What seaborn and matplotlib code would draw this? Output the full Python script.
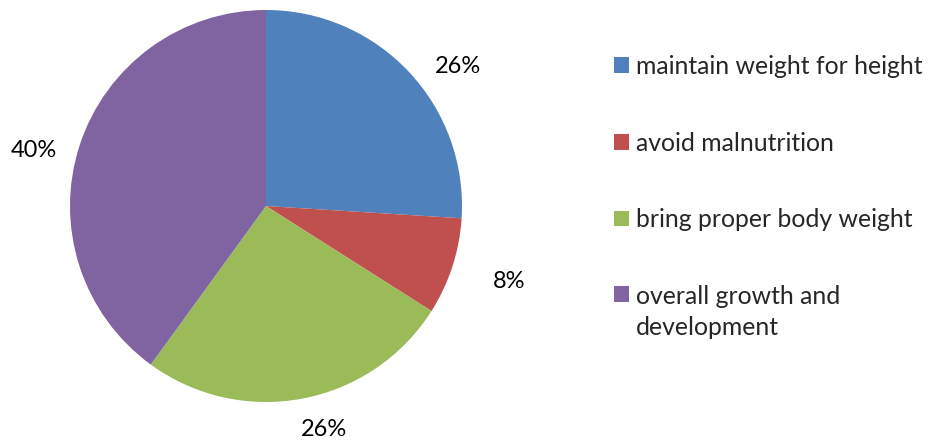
import matplotlib
matplotlib.use("Agg")
import matplotlib.pyplot as plt
from matplotlib.patches import Patch, Rectangle
from matplotlib.legend_handler import HandlerPatch
import seaborn as sns

# Daten
categories = ["maintain weight for height", "avoid malnutrition",
              "bring proper body weight", "overall growth and\ndevelopment"]
shares = [26, 8, 26, 40]
pct_labels = ["26%", "8%", "26%", "40%"]
colors = ["#4F81BD", "#C0504D", "#9BBB59", "#8064A2"]

sns.set_theme(style="white")
plt.rcParams["font.family"] = ["Lato", "DejaVu Sans"]

fig = plt.figure(figsize=(9.33, 4.41), dpi=100)
radius_px = 196
ax = fig.add_axes([70 / 933, 39 / 441, 392 / 933, 392 / 441])

palette = sns.color_palette(colors)
wedges, texts = ax.pie(shares, labels=pct_labels, colors=palette,
                       startangle=90, counterclock=False,
                       labeldistance=1.15, radius=1.0,
                       wedgeprops=dict(linewidth=0),
                       textprops=dict(fontsize=17, color="black"))

# kleine Verschiebungen der Prozentlabels (in Pixeln, wie bei Excel "best fit")
nudges = [(5, -15), (13, -6), (-7, -2), (5, -14)]
for t, (dx, dy) in zip(texts, nudges):
    x, y = t.get_position()
    t.set_position((x + dx / radius_px, y + dy / radius_px))

ax.set_xlim(-1, 1)
ax.set_ylim(-1, 1)
ax.set_aspect("equal")


# Legendensymbol bei mehrzeiligem Text an der ersten Zeile ausrichten
def first_line_patch(legend, orig_handle, xdescent, ydescent, width, height, fontsize):
    return Rectangle((-xdescent, -ydescent + 0.75 * fontsize), width, height)


fs = 17.8
handles = [Patch(facecolor=c, edgecolor="none") for c in palette]
leg = fig.legend(handles, categories, loc="upper left",
                 bbox_to_anchor=(614 / 933, 1 - 55 / 441),
                 frameon=False, fontsize=fs, handlelength=0.6, handleheight=0.6,
                 handletextpad=0.3, labelspacing=2.17, borderpad=0, borderaxespad=0,
                 handler_map={handles[3]: HandlerPatch(patch_func=first_line_patch)})
leg.get_texts()[3].set_linespacing(1.4)

fig.savefig("out.png", dpi=100)
